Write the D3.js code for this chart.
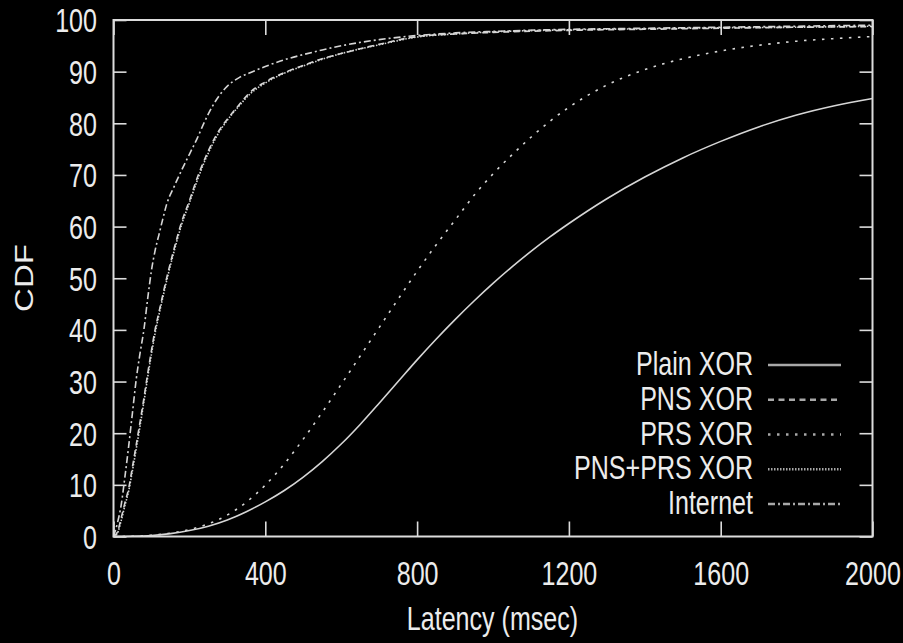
<!DOCTYPE html>
<html>
<head>
<meta charset="utf-8">
<script src="https://cdn.jsdelivr.net/npm/d3@7"></script>
<style>
  html, body { margin: 0; padding: 0; background: #000; }
  svg { display: block; }
  text { font-family: "Liberation Sans", Arial, sans-serif; fill: #ececec; }
</style>
</head>
<body>
<svg id="chart" width="903" height="643"></svg>
<script>
// Latency sample points (msec) for the fast-converging curves
const latencyFast = [0, 10, 20, 30, 40, 50, 60, 70, 80, 90, 100, 110, 120, 130, 140, 160, 180, 200, 220, 240, 260, 280, 300, 330, 360, 400, 450, 500, 550, 600, 700, 800, 900, 1000, 1200, 1400, 1600, 1800, 2000];
// Latency sample points (msec) for the slow curves
const latencySlow = [0, 50, 100, 150, 200, 250, 300, 350, 400, 450, 500, 550, 600, 650, 700, 750, 800, 850, 900, 950, 1000, 1050, 1100, 1150, 1200, 1300, 1400, 1500, 1600, 1700, 1800, 1900, 2000];

// CDF values (%)
const plainXor = [0, 0.05, 0.2, 0.55, 1.15, 2.0, 3.2, 4.8, 6.7, 8.9, 11.5, 14.5, 17.9, 21.7, 25.8, 30.0, 34.2, 38.2, 42.0, 45.6, 49.0, 52.2, 55.2, 58.0, 60.6, 65.4, 69.6, 73.3, 76.5, 79.3, 81.6, 83.4, 84.8];
const prsXor = [0, 0.05, 0.25, 0.65, 1.35, 2.45, 4.15, 6.65, 9.95, 14.05, 18.85, 24.05, 29.45, 34.95, 40.45, 45.95, 51.35, 56.45, 61.25, 66.05, 70.2, 73.9, 77.3, 80.4, 83.1, 87.4, 90.4, 92.5, 94.0, 95.1, 95.9, 96.4, 96.8];
const pnsXor = [0, 0.8, 3.5, 6.5, 9.3, 13.5, 17.8, 22.2, 26.7, 31.5, 36, 40.2, 43.5, 46.8, 50, 55.8, 61, 65, 69.3, 73, 76.2, 78.8, 80.8, 83.5, 86, 88, 89.8, 91.2, 92.5, 93.5, 95.3, 96.8, 97.3, 97.6, 98, 98.2, 98.4, 98.6, 98.7];
const pnsPrsXor = [0, 0.6, 3, 6, 8.8, 12.8, 17, 21.4, 26, 30.8, 35.3, 39.5, 43, 46.3, 49.5, 55.3, 60.5, 64.6, 68.8, 72.6, 75.8, 78.5, 80.6, 83.3, 85.7, 87.8, 89.7, 91.1, 92.4, 93.5, 95.2, 96.7, 97.3, 97.7, 98.1, 98.3, 98.5, 98.6, 98.8];
const internet = [0, 2.5, 6, 11.5, 17.5, 24, 30.5, 35.5, 40, 46, 51.5, 55.5, 58.5, 61.5, 64.3, 67.8, 71, 74, 77, 80.3, 83.2, 85.5, 87.2, 88.8, 89.8, 91, 92.3, 93.3, 94.2, 95, 96.2, 97, 97.5, 97.8, 98.2, 98.4, 98.6, 98.8, 99];

// Tick labels
const xTicks = [0, 400, 800, 1200, 1600, 2000];
const yTicks = [0, 10, 20, 30, 40, 50, 60, 70, 80, 90, 100];

const seriesNames = ["Plain XOR", "PNS XOR", "PRS XOR", "PNS+PRS XOR", "Internet"];
const seriesX = [latencySlow, latencyFast, latencySlow, latencyFast, latencyFast];
const seriesY = [plainXor, pnsXor, prsXor, pnsPrsXor, internet];
const seriesDash = [null, "6,4.5", "2.5,6.5", "1.5,1.5", "7,3,2,3"];

const svg = d3.select("#chart");
const plotLeft = 113.5, plotRight = 872.5, plotTop = 20, plotBottom = 536.5;
const squeeze = "scale(0.76,1)";
const fontSize = 33;

const x = d3.scaleLinear().domain([0, 2000]).range([plotLeft, plotRight]);
const y = d3.scaleLinear().domain([0, 100]).range([plotBottom, plotTop]);

const lineColor = "#d6d6d6";
const frameColor = "#dcdcdc";

// Bottom axis: inward ticks, labels below
const gx = svg.append("g").attr("transform", `translate(0,${plotBottom})`)
  .call(d3.axisBottom(x).tickValues(xTicks).tickFormat(d3.format("d"))
    .tickSizeInner(-15).tickSizeOuter(0));
gx.select(".domain").remove();
gx.selectAll(".tick line").attr("stroke", frameColor).attr("stroke-width", 1.6);
gx.selectAll(".tick text")
  .attr("x", null).attr("y", null).attr("dy", null)
  .attr("transform", `translate(0,48) ${squeeze}`)
  .attr("font-size", fontSize).attr("fill", "#ececec")
  .attr("font-family", "Liberation Sans, Arial, sans-serif");

// Top axis: mirrored ticks only
const gxt = svg.append("g").attr("transform", `translate(0,${plotTop})`)
  .call(d3.axisTop(x).tickValues(xTicks).tickSizeInner(-15).tickSizeOuter(0).tickFormat(""));
gxt.select(".domain").remove();
gxt.selectAll(".tick line").attr("stroke", frameColor).attr("stroke-width", 1.6);

// Left axis
const gy = svg.append("g").attr("transform", `translate(${plotLeft},0)`)
  .call(d3.axisLeft(y).tickValues(yTicks).tickFormat(d3.format("d"))
    .tickSizeInner(-13).tickSizeOuter(0));
gy.select(".domain").remove();
gy.selectAll(".tick line").attr("stroke", frameColor).attr("stroke-width", 1.6);
gy.selectAll(".tick text")
  .attr("x", null).attr("y", null).attr("dy", null)
  .attr("text-anchor", "end")
  .attr("transform", `translate(-16.5,11.8) ${squeeze}`)
  .attr("font-size", fontSize).attr("fill", "#ececec")
  .attr("font-family", "Liberation Sans, Arial, sans-serif");

// Right axis: mirrored ticks only
const gyr = svg.append("g").attr("transform", `translate(${plotRight},0)`)
  .call(d3.axisRight(y).tickValues(yTicks).tickSizeInner(-13).tickSizeOuter(0).tickFormat(""));
gyr.select(".domain").remove();
gyr.selectAll(".tick line").attr("stroke", frameColor).attr("stroke-width", 1.6);

// Curves
const line = d3.line().curve(d3.curveMonotoneX);
seriesNames.forEach((name, i) => {
  const pts = seriesX[i].map((v, j) => [x(v), y(seriesY[i][j])]);
  svg.append("path")
    .attr("d", line(pts))
    .attr("fill", "none")
    .attr("stroke", lineColor)
    .attr("stroke-width", 1.6)
    .attr("stroke-dasharray", seriesDash[i]);
});

// Plot frame
svg.append("rect")
  .attr("x", plotLeft).attr("y", plotTop)
  .attr("width", plotRight - plotLeft).attr("height", plotBottom - plotTop)
  .attr("fill", "none").attr("stroke", frameColor).attr("stroke-width", 2);

// Legend
const legend = svg.append("g");
seriesNames.forEach((name, i) => {
  const base = 375 + i * 34.75;
  legend.append("text")
    .attr("transform", `translate(753,${base}) ${squeeze}`)
    .attr("text-anchor", "end")
    .attr("font-size", fontSize)
    .text(name);
  legend.append("line")
    .attr("x1", 768).attr("x2", 841)
    .attr("y1", base - 10).attr("y2", base - 10)
    .attr("stroke", "#a8a8a8")
    .attr("stroke-width", 2.4)
    .attr("stroke-dasharray", seriesDash[i]);
});

// Axis titles
svg.append("text")
  .attr("transform", `translate(492.5,630) ${squeeze}`)
  .attr("text-anchor", "middle")
  .attr("font-size", fontSize)
  .text("Latency (msec)");

svg.append("text")
  .attr("transform", `translate(33,278) ${squeeze} rotate(-90)`)
  .attr("text-anchor", "middle")
  .attr("font-size", fontSize)
  .text("CDF");
</script>
</body>
</html>
